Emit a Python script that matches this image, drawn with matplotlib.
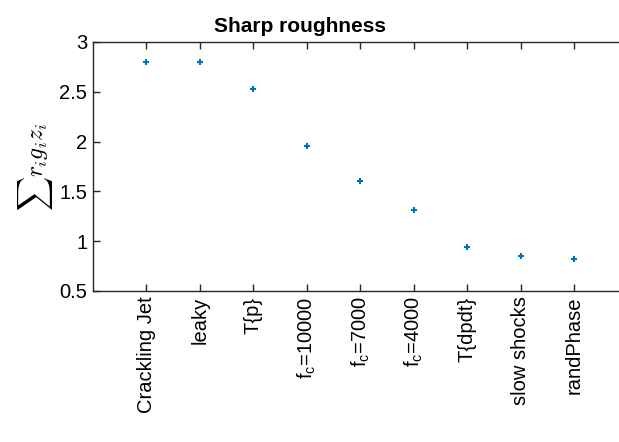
import matplotlib
matplotlib.use("Agg")
import matplotlib.pyplot as plt

plt.rcParams['font.family'] = ['Liberation Sans', 'DejaVu Sans']
plt.rcParams['mathtext.fontset'] = 'custom'
plt.rcParams['mathtext.rm'] = 'Liberation Sans'
plt.rcParams['mathtext.it'] = 'Liberation Sans:italic'
plt.rcParams['savefig.bbox'] = 'standard'

labels = ['Crackling Jet', 'leaky', 'T{p}', r'f$_\mathrm{c}$=10000', r'f$_\mathrm{c}$=7000',
          r'f$_\mathrm{c}$=4000', 'T{dpdt}', 'slow shocks', 'randPhase']
values = [2.80, 2.80, 2.53, 1.96, 1.60, 1.31, 0.94, 0.85, 0.82]
yticks = [0.5, 1, 1.5, 2, 2.5, 3]

fig = plt.figure(figsize=(6.19, 4.42), dpi=100)
ax = fig.add_axes([0.150, 0.342, 0.8645, 0.563])

x = list(range(1, len(values) + 1))
ax.plot(x, values, linestyle='none', marker='+', color='#0072BD', markersize=5, markeredgewidth=1.5)

ax.set_xlim(0, 10)
ax.set_ylim(0.5, 3)
ax.set_xticks(x)
ax.set_xticklabels(labels, rotation=90, fontsize=14.5)
ax.set_yticks(yticks)
ax.set_yticklabels(['0.5', '1', '1.5', '2', '2.5', '3'], fontsize=14.5)
ax.tick_params(direction='in', length=5, width=1, top=True, right=False, colors='#262626', labelcolor='black', pad=4)
ax.spines['right'].set_visible(False)
for s in ax.spines.values():
    s.set_color('#262626')
    s.set_linewidth(1)

ax.set_ylabel(r'$\sum r_i g_i z_i$', fontsize=17, math_fontfamily='cm', labelpad=3)
# title sits centred on the visible part of the figure, not on the whole axes
ax.set_title('Sharp roughness', fontsize=15, fontweight='bold', pad=7, x=0.387)

fig.savefig('out.png', dpi=100)
